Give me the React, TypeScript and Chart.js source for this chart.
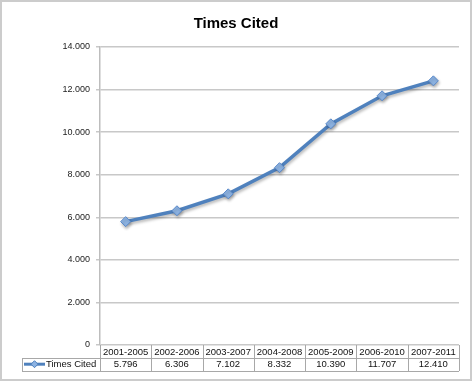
import React, { useEffect, useRef } from 'react';
import { Chart, registerables } from 'chart.js';

Chart.register(...registerables);

const chartTitle = 'Times Cited';
const seriesName = 'Times Cited';
const categories = ['2001-2005', '2002-2006', '2003-2007', '2004-2008', '2005-2009', '2006-2010', '2007-2011'];
const timesCited = [5796, 6306, 7102, 8332, 10390, 11707, 12410];
const yMin = 0;
const yMax = 14000;
const yStep = 2000;

const fmt = (v: number): string => {
  const n = Math.round(v);
  if (n < 1000) return String(n);
  return Math.floor(n / 1000) + '.' + String(n % 1000).padStart(3, '0');
};

const FONT = '"Liberation Sans", Arial, sans-serif';

const deco = {
  id: 'deco',
  beforeDraw(chart: any) {
    const ctx = chart.ctx;
    ctx.save();
    ctx.fillStyle = '#ffffff';
    ctx.fillRect(0, 0, chart.width, chart.height);
    ctx.fillStyle = '#000000';
    ctx.font = 'bold 15px ' + FONT;
    ctx.textAlign = 'center';
    ctx.textBaseline = 'middle';
    ctx.fillText(chartTitle, 236, 24);
    ctx.restore();
  },
  beforeDatasetsDraw(chart: any) {
    const ctx = chart.ctx;
    ctx.save();
    ctx.shadowColor = 'rgba(0,0,0,0.28)';
    ctx.shadowBlur = 3;
    ctx.shadowOffsetX = 1;
    ctx.shadowOffsetY = 2;
  },
  afterDatasetsDraw(chart: any) {
    chart.ctx.restore();
  },
  afterDraw(chart: any) {
    const ctx = chart.ctx;
    const xs = chart.scales.x;
    const area = chart.chartArea;
    const n = categories.length;
    const colW = xs.getPixelForValue(1) - xs.getPixelForValue(0);
    const left = xs.getPixelForValue(0) - colW / 2;
    const right = xs.getPixelForValue(n - 1) + colW / 2;
    const top = area.bottom;
    const rowH = 12.8;
    const r1 = top + rowH;
    const r2 = r1 + rowH;
    const legLeft = 22;
    ctx.save();
    ctx.strokeStyle = '#a8a8a8';
    ctx.lineWidth = 1;
    ctx.beginPath();
    ctx.moveTo(legLeft, Math.round(r1) + 0.5);
    ctx.lineTo(right, Math.round(r1) + 0.5);
    ctx.moveTo(legLeft, Math.round(r2) + 0.5);
    ctx.lineTo(right, Math.round(r2) + 0.5);
    ctx.moveTo(legLeft + 0.5, Math.round(r1));
    ctx.lineTo(legLeft + 0.5, Math.round(r2));
    for (let i = 0; i <= n; i++) {
      const x = Math.round(left + i * colW) + 0.5;
      ctx.moveTo(x, top);
      ctx.lineTo(x, Math.round(r2));
    }
    ctx.stroke();

    ctx.fillStyle = '#111111';
    ctx.font = '9.5px ' + FONT;
    ctx.textAlign = 'center';
    ctx.textBaseline = 'middle';
    for (let i = 0; i < n; i++) {
      const cx = xs.getPixelForValue(i);
      ctx.fillText(categories[i], cx, (top + r1) / 2 + 0.5);
      ctx.fillText(fmt(timesCited[i]), cx, (r1 + r2) / 2 + 0.5);
    }
    // legend key
    const ly = (r1 + r2) / 2;
    ctx.strokeStyle = '#4f81bd';
    ctx.lineWidth = 3;
    ctx.beginPath();
    ctx.moveTo(24, ly);
    ctx.lineTo(45, ly);
    ctx.stroke();
    ctx.fillStyle = '#8db3e2';
    ctx.strokeStyle = '#4f81bd';
    ctx.lineWidth = 1;
    ctx.beginPath();
    ctx.moveTo(34.5, ly - 3.5);
    ctx.lineTo(38, ly);
    ctx.lineTo(34.5, ly + 3.5);
    ctx.lineTo(31, ly);
    ctx.closePath();
    ctx.fill();
    ctx.stroke();
    ctx.fillStyle = '#111111';
    ctx.textAlign = 'left';
    ctx.fillText(seriesName, 46, ly + 0.5);

    // outer frame
    ctx.strokeStyle = '#cccccc';
    ctx.lineWidth = 2;
    ctx.strokeRect(1, 1, 470, 379);
    ctx.restore();
  },
};

export default function App() {
  const ref = useRef<HTMLCanvasElement | null>(null);
  useEffect(() => {
    if (!ref.current) return;
    const chart = new Chart(ref.current, {
      type: 'line',
      data: {
        labels: categories,
        datasets: [
          {
            label: seriesName,
            data: timesCited,
            borderColor: '#4f81bd',
            borderWidth: 3.5,
            pointStyle: 'rectRot',
            pointRadius: 5,
            pointBackgroundColor: '#8db3e2',
            pointBorderColor: '#5a8acb',
            pointBorderWidth: 1,
            tension: 0,
            fill: false,
          },
        ],
      },
      options: {
        responsive: false,
        animation: false,
        devicePixelRatio: 1,
        layout: { padding: { left: 0, right: 15, top: 47, bottom: 38 } },
        plugins: {
          legend: { display: false },
          title: { display: false },
          tooltip: { enabled: false },
        },
        scales: {
          x: {
            offset: true,
            grid: { display: false },
            border: { display: false },
            ticks: { display: false },
            afterFit: (s: any) => {
              s.height = 0;
            },
          },
          y: {
            min: yMin,
            max: yMax,
            ticks: {
              stepSize: yStep,
              padding: 6,
              color: '#222222',
              font: { family: FONT, size: 9 },
              callback: (v: any) => fmt(Number(v)),
            },
            grid: { color: '#c8c8c8', lineWidth: 1.5, tickLength: 4 },
            border: { display: true, color: '#bdbdbd', width: 1.5 },
            afterFit: (s: any) => {
              s.width = 100;
            },
          },
        },
      },
      plugins: [deco],
    });
    return () => chart.destroy();
  }, []);
  return (
    <div style={{ position: 'absolute', left: 0, top: 0, width: 474, height: 383 }}>
      <canvas ref={ref} width={474} height={383} style={{ width: 474, height: 383 }} />
    </div>
  );
}
